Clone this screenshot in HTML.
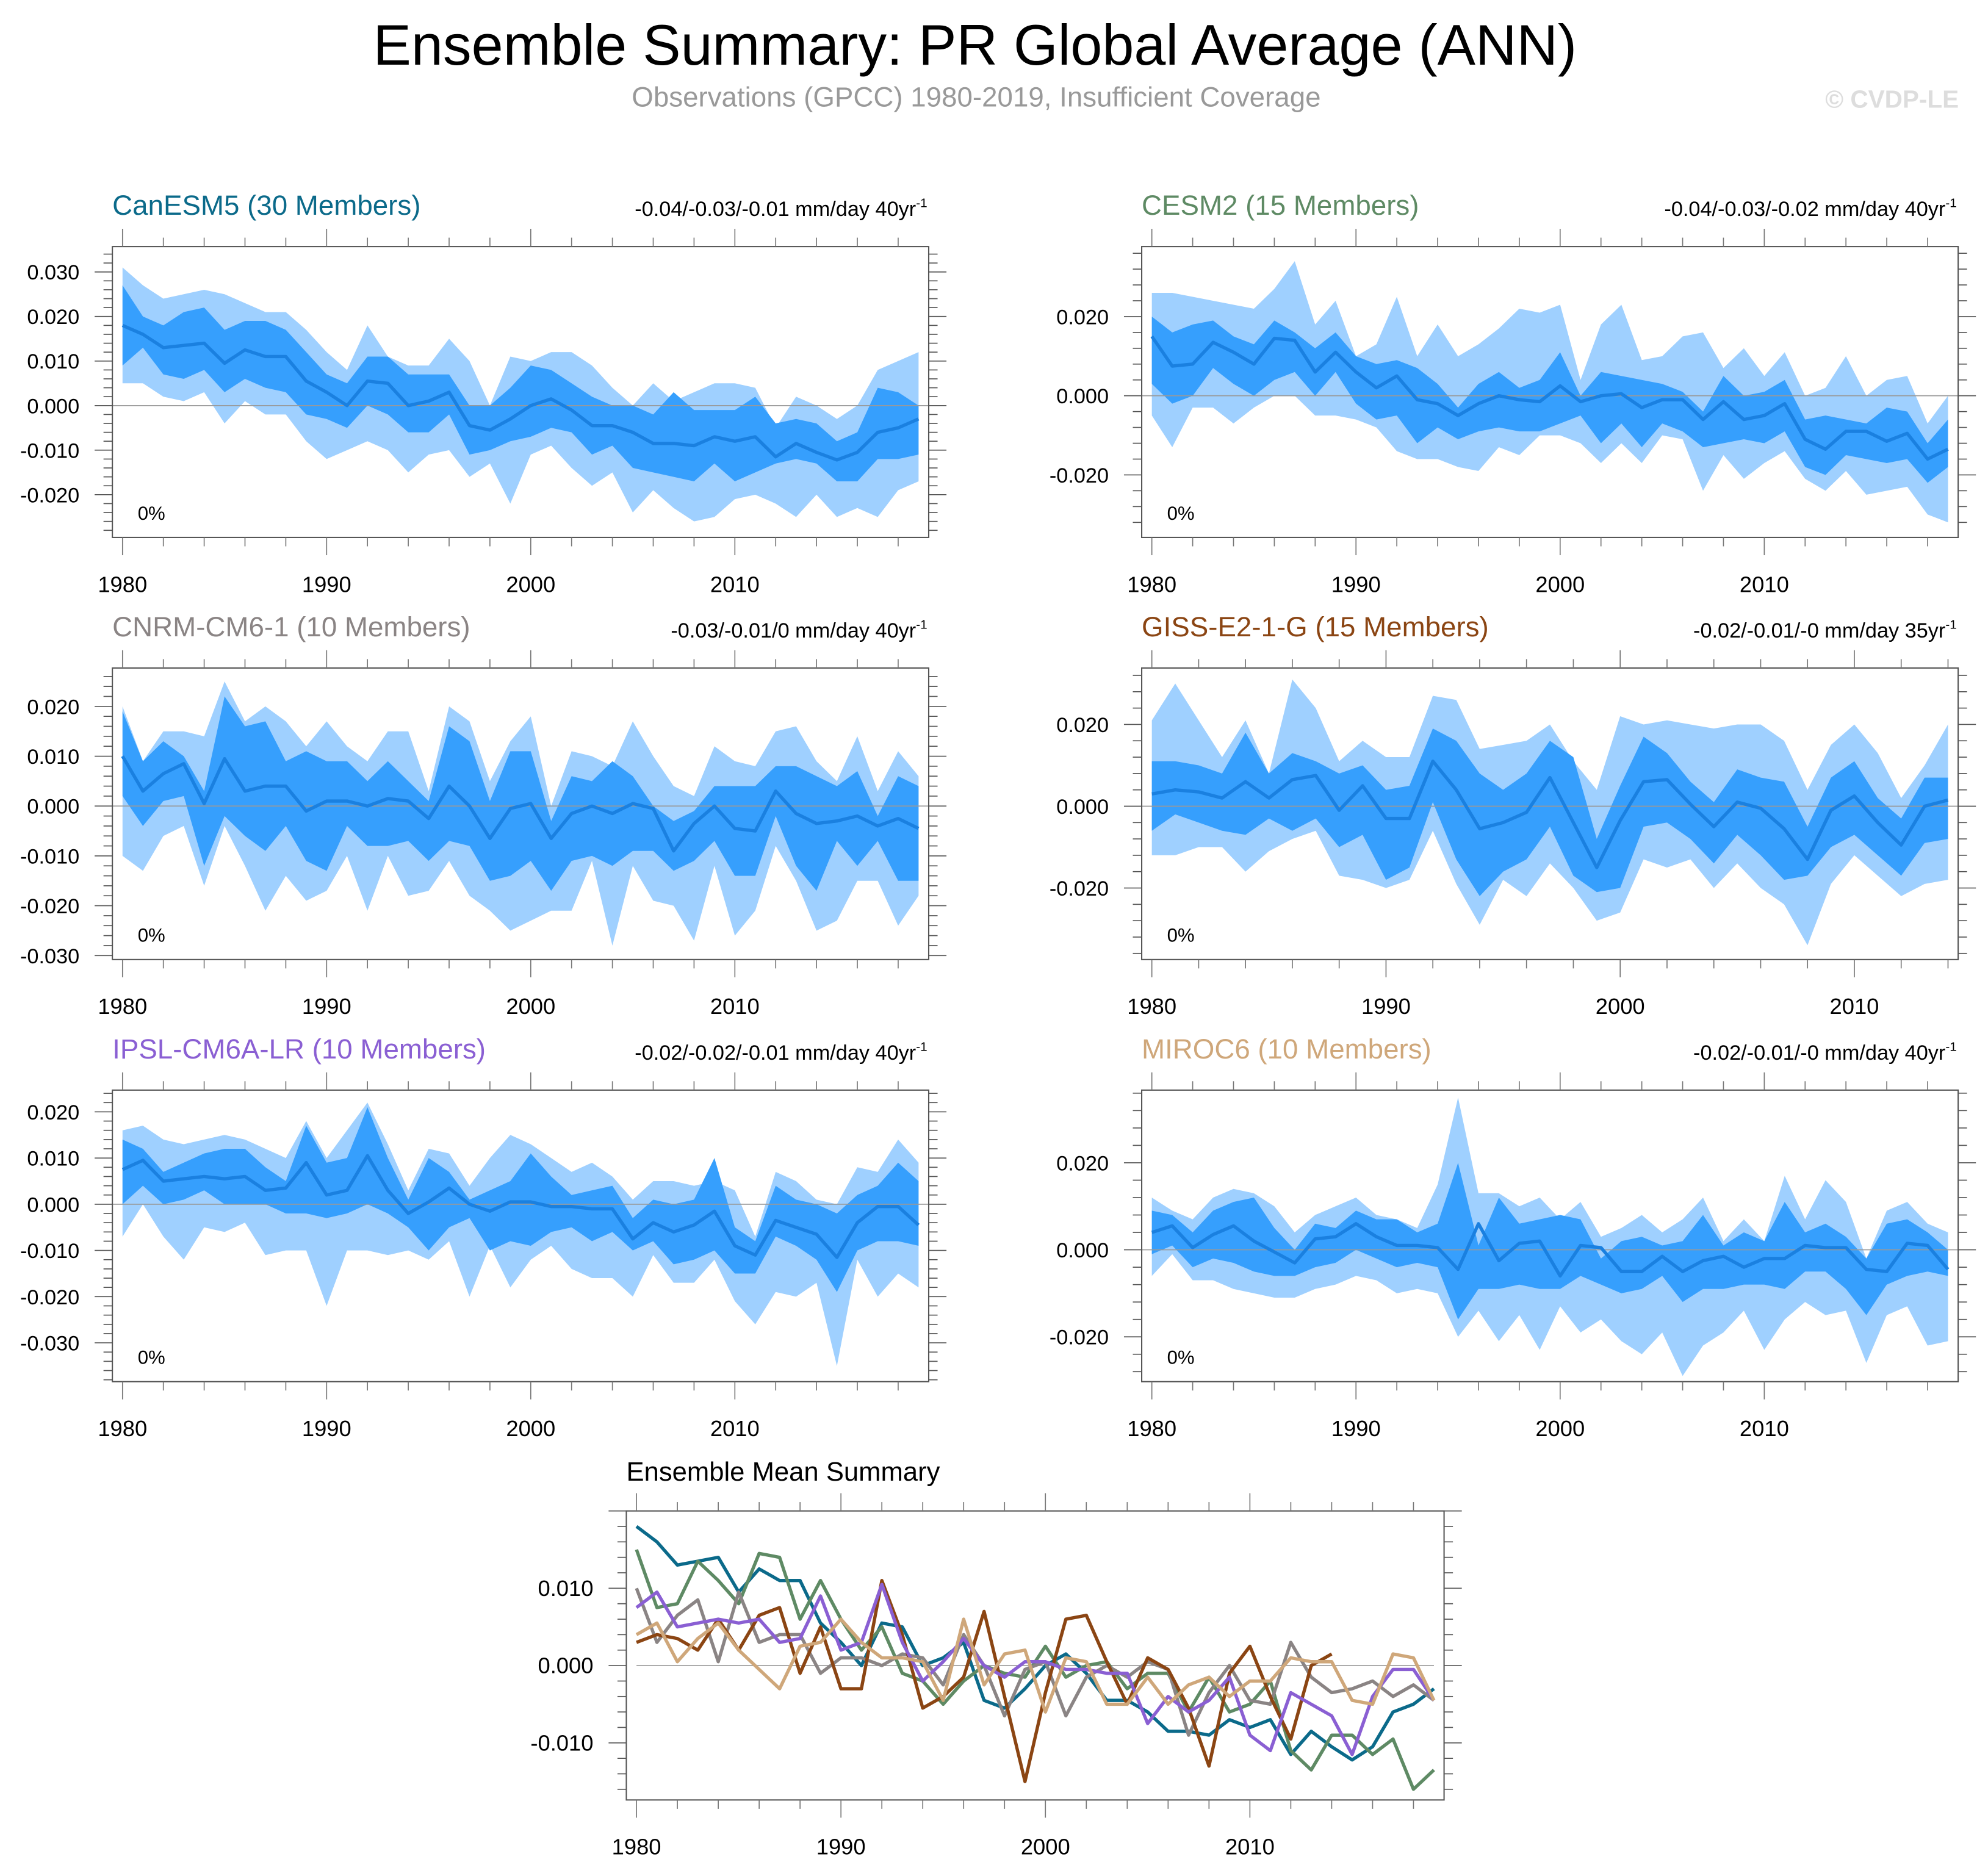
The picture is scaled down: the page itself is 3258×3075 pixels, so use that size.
<!DOCTYPE html>
<html><head><meta charset="utf-8"><title>Ensemble Summary: PR Global Average (ANN)</title>
<style>
html,body{margin:0;padding:0;background:#fff;}
svg{display:block;font-family:"Liberation Sans",Arial,sans-serif;}
</style></head>
<body>
<svg id="fig" width="3258" height="3075" viewBox="0 0 1568 1480" xmlns="http://www.w3.org/2000/svg">
<rect x="0" y="0" width="1568" height="1480" fill="#fff"/>
<text x="769" y="51" text-anchor="middle" font-size="45" fill="#000">Ensemble Summary: PR Global Average (ANN)</text>
<text x="770" y="84" text-anchor="middle" font-size="22" fill="#999">Observations (GPCC) 1980-2019, Insufficient Coverage</text>
<text x="1545" y="85" text-anchor="end" font-size="19.5" font-weight="bold" fill="#ddd">© CVDP-LE</text>
<g id="plots"></g>
</svg>
<script>
// ---------- data ----------
const years40 = [1980,1981,1982,1983,1984,1985,1986,1987,1988,1989,1990,1991,1992,1993,1994,1995,1996,1997,1998,1999,2000,2001,2002,2003,2004,2005,2006,2007,2008,2009,2010,2011,2012,2013,2014,2015,2016,2017,2018,2019];
const years35 = years40.slice(0,35);
const xTickLabels = [1980,1990,2000,2010];

const canMean = [0.018,0.016,0.013,0.0135,0.014,0.0095,0.0125,0.011,0.011,0.0055,0.003,0.0,0.0055,0.005,0.0,0.001,0.003,-0.0045,-0.0055,-0.003,0.0,0.0015,-0.001,-0.0045,-0.0045,-0.006,-0.0085,-0.0085,-0.009,-0.007,-0.008,-0.007,-0.0115,-0.0085,-0.0105,-0.0122,-0.0105,-0.006,-0.005,-0.003];
const canMax = [0.031,0.027,0.024,0.025,0.026,0.025,0.023,0.021,0.021,0.017,0.012,0.008,0.018,0.011,0.009,0.009,0.015,0.01,0.0,0.011,0.01,0.012,0.012,0.009,0.004,0.0,0.005,0.001,0.003,0.005,0.005,0.004,-0.005,0.002,0.0,-0.003,0.0,0.008,0.01,0.012];
const canHi = [0.027,0.02,0.018,0.021,0.022,0.017,0.019,0.019,0.017,0.012,0.007,0.005,0.011,0.011,0.007,0.007,0.007,0.0,0.0,0.004,0.009,0.008,0.005,0.002,0.0,0.0,-0.002,0.003,-0.001,-0.001,-0.001,0.002,-0.004,-0.003,-0.004,-0.008,-0.006,0.004,0.003,0.0];
const canLo = [0.009,0.013,0.007,0.006,0.008,0.003,0.006,0.004,0.003,-0.002,-0.003,-0.005,0.0,-0.002,-0.006,-0.006,-0.002,-0.011,-0.01,-0.008,-0.007,-0.005,-0.006,-0.011,-0.009,-0.014,-0.015,-0.016,-0.017,-0.013,-0.017,-0.015,-0.013,-0.012,-0.013,-0.017,-0.017,-0.012,-0.012,-0.011];
const canMin = [0.005,0.005,0.002,0.001,0.003,-0.004,0.001,-0.002,-0.002,-0.008,-0.012,-0.01,-0.008,-0.01,-0.015,-0.011,-0.01,-0.016,-0.013,-0.022,-0.011,-0.009,-0.014,-0.018,-0.015,-0.024,-0.019,-0.023,-0.026,-0.025,-0.021,-0.02,-0.022,-0.025,-0.02,-0.025,-0.023,-0.025,-0.019,-0.017];

const cesMean = [0.015,0.0075,0.008,0.0135,0.011,0.008,0.0145,0.014,0.006,0.011,0.006,0.002,0.005,-0.001,-0.002,-0.005,-0.002,0.0,-0.001,-0.0015,0.0025,-0.0015,0.0,0.0005,-0.003,-0.001,-0.001,-0.006,-0.0015,-0.006,-0.005,-0.002,-0.011,-0.0135,-0.009,-0.009,-0.0115,-0.0095,-0.016,-0.0135];
const cesMax = [0.026,0.026,0.025,0.024,0.023,0.022,0.027,0.034,0.018,0.024,0.01,0.013,0.025,0.01,0.018,0.01,0.013,0.017,0.022,0.021,0.023,0.004,0.018,0.023,0.009,0.01,0.015,0.016,0.007,0.012,0.005,0.011,0.0,0.002,0.01,0.0,0.004,0.005,-0.007,0.0];
const cesHi = [0.02,0.016,0.018,0.019,0.015,0.013,0.019,0.016,0.012,0.016,0.01,0.008,0.009,0.007,0.003,-0.003,0.003,0.006,0.002,0.004,0.011,0.0,0.006,0.005,0.004,0.003,0.001,-0.004,0.005,0.0,0.001,0.004,-0.006,-0.005,-0.006,-0.007,-0.003,-0.004,-0.012,-0.006];
const cesLo = [0.003,-0.002,0.0,0.007,0.003,0.0,0.004,0.006,0.0,0.006,-0.002,-0.006,-0.005,-0.012,-0.008,-0.011,-0.009,-0.008,-0.009,-0.009,-0.007,-0.005,-0.012,-0.007,-0.013,-0.007,-0.009,-0.013,-0.012,-0.011,-0.012,-0.009,-0.018,-0.02,-0.015,-0.016,-0.017,-0.016,-0.022,-0.018];
const cesMin = [-0.005,-0.013,-0.003,-0.003,-0.007,-0.003,0.0,0.0,-0.005,-0.005,-0.006,-0.008,-0.014,-0.016,-0.016,-0.018,-0.019,-0.013,-0.015,-0.01,-0.01,-0.012,-0.017,-0.012,-0.017,-0.01,-0.011,-0.024,-0.015,-0.021,-0.017,-0.014,-0.021,-0.024,-0.019,-0.025,-0.024,-0.023,-0.03,-0.032];

const cnrmMean = [0.01,0.003,0.0065,0.0085,0.0005,0.0095,0.003,0.004,0.004,-0.001,0.001,0.001,0.0,0.0015,0.001,-0.0025,0.004,0.0,-0.0065,-0.0005,0.0005,-0.0065,-0.0015,0.0,-0.0015,0.0005,-0.0005,-0.009,-0.0035,0.0,-0.0045,-0.005,0.003,-0.0015,-0.0035,-0.003,-0.002,-0.004,-0.0025,-0.0045];
const cnrmMax = [0.02,0.009,0.015,0.015,0.014,0.025,0.017,0.02,0.017,0.012,0.017,0.012,0.009,0.015,0.015,0.003,0.02,0.017,0.005,0.013,0.018,0.0,0.011,0.01,0.008,0.017,0.01,0.004,0.002,0.012,0.009,0.008,0.015,0.016,0.009,0.005,0.014,0.003,0.011,0.006];
const cnrmHi = [0.019,0.009,0.013,0.01,0.003,0.022,0.016,0.017,0.009,0.011,0.009,0.009,0.005,0.009,0.005,0.001,0.016,0.013,0.001,0.011,0.011,-0.003,0.006,0.005,0.009,0.006,0.0,-0.003,-0.001,0.004,0.004,0.004,0.008,0.008,0.006,0.004,0.007,-0.002,0.006,0.004];
const cnrmLo = [0.002,-0.004,0.001,0.002,-0.012,-0.002,-0.006,-0.009,-0.004,-0.011,-0.013,-0.004,-0.008,-0.008,-0.007,-0.011,-0.007,-0.008,-0.015,-0.014,-0.011,-0.017,-0.011,-0.01,-0.012,-0.009,-0.009,-0.013,-0.011,-0.007,-0.014,-0.014,-0.002,-0.012,-0.017,-0.007,-0.012,-0.007,-0.015,-0.015];
const cnrmMin = [-0.01,-0.013,-0.006,-0.004,-0.016,-0.004,-0.012,-0.021,-0.014,-0.019,-0.017,-0.01,-0.021,-0.01,-0.018,-0.017,-0.011,-0.018,-0.021,-0.025,-0.023,-0.021,-0.021,-0.011,-0.028,-0.012,-0.019,-0.02,-0.027,-0.012,-0.026,-0.021,-0.008,-0.015,-0.025,-0.023,-0.015,-0.015,-0.024,-0.018];

const gissMean = [0.003,0.004,0.0035,0.002,0.006,0.002,0.0065,0.0075,-0.001,0.005,-0.003,-0.003,0.011,0.004,-0.0055,-0.004,-0.0015,0.007,-0.004,-0.015,-0.0035,0.006,0.0065,0.0005,-0.005,0.001,-0.0005,-0.0055,-0.013,-0.001,0.0025,-0.004,-0.0095,0.0,0.0015];
const gissMax = [0.021,0.03,0.021,0.012,0.021,0.008,0.031,0.024,0.011,0.016,0.012,0.012,0.027,0.026,0.014,0.015,0.016,0.02,0.011,0.004,0.022,0.02,0.021,0.02,0.019,0.02,0.02,0.016,0.004,0.015,0.02,0.013,0.002,0.01,0.02];
const gissHi = [0.011,0.011,0.01,0.008,0.018,0.008,0.013,0.011,0.008,0.01,0.004,0.005,0.019,0.016,0.008,0.004,0.008,0.016,0.012,-0.008,0.005,0.017,0.013,0.006,0.001,0.009,0.007,0.006,-0.005,0.007,0.011,0.002,-0.003,0.007,0.007];
const gissLo = [-0.006,-0.002,-0.004,-0.006,-0.007,-0.003,-0.006,-0.003,-0.01,-0.007,-0.018,-0.015,0.001,-0.013,-0.022,-0.016,-0.013,-0.005,-0.017,-0.021,-0.02,-0.005,-0.004,-0.008,-0.014,-0.007,-0.012,-0.018,-0.017,-0.01,-0.007,-0.012,-0.017,-0.009,-0.008];
const gissMin = [-0.012,-0.012,-0.01,-0.01,-0.016,-0.011,-0.008,-0.006,-0.017,-0.018,-0.02,-0.018,-0.006,-0.019,-0.029,-0.018,-0.022,-0.014,-0.02,-0.028,-0.026,-0.013,-0.015,-0.013,-0.02,-0.014,-0.02,-0.024,-0.034,-0.019,-0.012,-0.017,-0.022,-0.019,-0.018];

const ipslMean = [0.0075,0.0095,0.005,0.0055,0.006,0.0055,0.006,0.003,0.0035,0.009,0.002,0.003,0.0105,0.003,-0.002,0.0005,0.0035,0.0,-0.0015,0.0005,0.0005,-0.0005,-0.0005,-0.001,-0.001,-0.0075,-0.004,-0.006,-0.0045,-0.0015,-0.009,-0.011,-0.0035,-0.005,-0.0065,-0.0115,-0.004,-0.0005,-0.0005,-0.0045];
const ipslMax = [0.016,0.017,0.014,0.013,0.014,0.015,0.014,0.012,0.01,0.018,0.01,0.016,0.022,0.013,0.003,0.012,0.011,0.004,0.01,0.015,0.013,0.01,0.007,0.009,0.006,0.001,0.005,0.005,0.004,0.005,0.003,-0.007,0.007,0.005,0.001,0.0,0.008,0.007,0.014,0.009];
const ipslHi = [0.014,0.012,0.007,0.009,0.011,0.012,0.012,0.008,0.005,0.017,0.009,0.01,0.021,0.01,0.001,0.01,0.007,0.001,0.003,0.005,0.011,0.006,0.002,0.003,0.004,-0.003,0.001,0.0,0.001,0.01,-0.005,-0.008,0.004,0.001,0.0,-0.002,0.002,0.004,0.009,0.005];
const ipslLo = [0.0,0.004,0.0,0.001,0.003,0.0,0.0,0.0,-0.002,-0.002,-0.003,-0.002,0.0,-0.002,-0.005,-0.01,-0.005,-0.003,-0.01,-0.008,-0.009,-0.006,-0.005,-0.008,-0.006,-0.01,-0.008,-0.013,-0.012,-0.01,-0.015,-0.015,-0.007,-0.009,-0.012,-0.019,-0.01,-0.008,-0.008,-0.009];
const ipslMin = [-0.007,0.0,-0.007,-0.012,-0.005,-0.006,-0.004,-0.011,-0.01,-0.01,-0.022,-0.01,-0.01,-0.011,-0.01,-0.012,-0.008,-0.02,-0.009,-0.018,-0.012,-0.009,-0.014,-0.016,-0.016,-0.02,-0.011,-0.017,-0.017,-0.012,-0.021,-0.026,-0.019,-0.02,-0.017,-0.035,-0.012,-0.02,-0.015,-0.018];

const mirMean = [0.004,0.0055,0.0005,0.0035,0.0055,0.002,-0.0005,-0.003,0.0025,0.003,0.006,0.003,0.001,0.001,0.0005,-0.0045,0.006,-0.0025,0.0015,0.002,-0.006,0.001,0.0005,-0.005,-0.005,-0.0015,-0.005,-0.0025,-0.0015,-0.004,-0.002,-0.002,0.001,0.0005,0.0005,-0.0045,-0.005,0.0015,0.001,-0.0045];
const mirMax = [0.012,0.009,0.007,0.012,0.014,0.013,0.01,0.004,0.008,0.01,0.012,0.008,0.007,0.005,0.015,0.035,0.013,0.013,0.01,0.012,0.007,0.011,0.003,0.005,0.008,0.004,0.007,0.012,0.002,0.007,0.002,0.017,0.007,0.016,0.011,-0.002,0.009,0.011,0.006,0.004];
const mirHi = [0.009,0.008,0.004,0.009,0.011,0.012,0.005,0.0,0.006,0.005,0.009,0.007,0.007,0.004,0.006,0.02,0.001,0.012,0.006,0.007,0.008,0.007,-0.002,0.002,0.003,0.001,0.002,0.008,0.001,0.004,0.002,0.011,0.004,0.006,0.003,-0.002,0.006,0.007,0.004,0.0];
const mirLo = [-0.001,0.001,-0.004,-0.002,-0.003,-0.005,-0.006,-0.006,-0.004,-0.003,0.0,-0.002,-0.004,-0.003,-0.004,-0.016,-0.009,-0.009,-0.008,-0.009,-0.009,-0.006,-0.008,-0.01,-0.009,-0.006,-0.012,-0.009,-0.009,-0.008,-0.008,-0.009,-0.005,-0.005,-0.009,-0.015,-0.008,-0.006,-0.005,-0.006];
const mirMin = [-0.006,-0.001,-0.007,-0.007,-0.009,-0.01,-0.011,-0.011,-0.009,-0.008,-0.006,-0.007,-0.01,-0.009,-0.01,-0.02,-0.014,-0.021,-0.015,-0.023,-0.013,-0.019,-0.016,-0.021,-0.024,-0.019,-0.029,-0.022,-0.019,-0.014,-0.023,-0.016,-0.012,-0.015,-0.014,-0.026,-0.015,-0.013,-0.022,-0.021];

const modelNames = ["CanESM5 (30 Members)","CESM2 (15 Members)","CNRM-CM6-1 (10 Members)","GISS-E2-1-G (15 Members)","IPSL-CM6A-LR (10 Members)","MIROC6 (10 Members)"];
const trendLabels = ["-0.04/-0.03/-0.01 mm/day 40yr","-0.04/-0.03/-0.02 mm/day 40yr","-0.03/-0.01/0 mm/day 40yr","-0.02/-0.01/-0 mm/day 35yr","-0.02/-0.02/-0.01 mm/day 40yr","-0.02/-0.01/-0 mm/day 40yr"];
const yLabelsA = [-0.02,-0.01,0,0.01,0.02,0.03];
const yLabelsB = [-0.02,0,0.02];
const yLabelsC = [-0.03,-0.02,-0.01,0,0.01,0.02];
const yLabelsD = [-0.01,0,0.01];

// ---------- layout ----------
const NS = "http://www.w3.org/2000/svg";
const root = document.getElementById("plots");
function el(tag, attrs, parent){
  const e = document.createElementNS(NS, tag);
  for (const k in attrs) e.setAttribute(k, attrs[k]);
  (parent||root).appendChild(e);
  return e;
}
function fmt(v){ if (Math.abs(v)<1e-9) return "0.000"; return v.toFixed(3); }

const panels = [
  {name:"canesm5", color:"#0b6a8a", x0:88.6, y0:194.5, x1:732.5, y1:424, ymin:-0.0296, ymax:0.0357, yl:yLabelsA, major:0.01, minor:0.002, years:years40, mean:canMean, mx:canMax, hi:canHi, lo:canLo, mn:canMin},
  {name:"cesm2", color:"#5e8a64", x0:900.5, y0:194.5, x1:1544.5, y1:424, ymin:-0.0358, ymax:0.0377, yl:yLabelsB, major:0.02, minor:0.004, years:years40, mean:cesMean, mx:cesMax, hi:cesHi, lo:cesLo, mn:cesMin},
  {name:"cnrm-cm6-1", color:"#8a8484", x0:88.6, y0:527, x1:732.5, y1:757, ymin:-0.0308, ymax:0.0277, yl:yLabelsC, major:0.01, minor:0.002, years:years40, mean:cnrmMean, mx:cnrmMax, hi:cnrmHi, lo:cnrmLo, mn:cnrmMin},
  {name:"giss-e2-1-g", color:"#8b4513", x0:900.5, y0:527, x1:1544.5, y1:757, ymin:-0.0375, ymax:0.0338, yl:yLabelsB, major:0.02, minor:0.004, years:years35, mean:gissMean, mx:gissMax, hi:gissHi, lo:gissLo, mn:gissMin},
  {name:"ipsl-cm6a-lr", color:"#8a5fd3", x0:88.6, y0:860, x1:732.5, y1:1090, ymin:-0.0384, ymax:0.0247, yl:yLabelsC, major:0.01, minor:0.002, years:years40, mean:ipslMean, mx:ipslMax, hi:ipslHi, lo:ipslLo, mn:ipslMin},
  {name:"miroc6", color:"#cfa77a", x0:900.5, y0:860, x1:1544.5, y1:1090, ymin:-0.0303, ymax:0.0367, yl:yLabelsB, major:0.02, minor:0.004, years:years40, mean:mirMean, mx:mirMax, hi:mirHi, lo:mirLo, mn:mirMin}
];

function makeScales(p){
  const n = p.years.length;
  const xs = i => p.x0 + 8 + i*((p.x1-p.x0-16)/(n-1));
  const xy = yr => xs(yr - p.years[0]);
  const ys = v => p.y1 - (v - p.ymin)/(p.ymax - p.ymin)*(p.y1-p.y0);
  return {xs, xy, ys};
}

function drawAxes(p, g, s, lblSize){
  const start = Math.ceil(p.ymin/p.minor - 1e-6);
  const end = Math.floor(p.ymax/p.minor + 1e-6);
  for (let k=start;k<=end;k++){
    const v = k*p.minor;
    const y = s.ys(v);
    const isMajor = Math.abs(v/p.major - Math.round(v/p.major)) < 1e-6;
    const L = isMajor ? 14 : 7;
    el("line",{x1:p.x0-L,y1:y,x2:p.x0,y2:y,stroke:"#555","stroke-width":0.8},g);
    el("line",{x1:p.x1,y1:y,x2:p.x1+L,y2:y,stroke:"#555","stroke-width":0.8},g);
  }
  p.yl.forEach(v=>{
    const t = el("text",{x:p.x0-26,y:s.ys(v)+6,"text-anchor":"end","font-size":lblSize,fill:"#000"},g);
    
    
    t.textContent = fmt(v);
  });
  const y0 = p.years[0], yN = p.years[p.years.length-1];
  for (let yr=y0; yr<=yN; yr+=2){
    const x = s.xy(yr);
    const isMajor = (yr%10===0);
    const L = isMajor ? 14 : 7;
    el("line",{x1:x,y1:p.y0-L,x2:x,y2:p.y0,stroke:"#777","stroke-width":0.8},g);
    el("line",{x1:x,y1:p.y1,x2:x,y2:p.y1+L,stroke:"#777","stroke-width":0.8},g);
  }
  xTickLabels.forEach(yr=>{
    if (yr>yN) return;
    const t = el("text",{x:s.xy(yr),y:p.y1+43,"text-anchor":"middle","font-size":17.5,fill:"#000"},g);
    
    
    t.textContent = yr;
  });
}

function band(upper, lower, s){
  let d = "";
  upper.forEach((v,i)=>{ d += (i?"L":"M") + s.xs(i).toFixed(2) + "," + s.ys(v).toFixed(2); });
  for (let i=lower.length-1;i>=0;i--) d += "L" + s.xs(i).toFixed(2) + "," + s.ys(lower[i]).toFixed(2);
  return d + "Z";
}
function linePath(arr, s){
  let d = "";
  arr.forEach((v,i)=>{ d += (i?"L":"M") + s.xs(i).toFixed(2) + "," + s.ys(v).toFixed(2); });
  return d;
}

panels.forEach((p, idx)=>{
  const g = el("g",{});
  
  
  const s = makeScales(p);
  const outer = el("path",{d:band(p.mx,p.mn,s),fill:"#9fd0ff"},g);
  
  
  const inner = el("path",{d:band(p.hi,p.lo,s),fill:"#369ffd"},g);
  
  
  el("line",{x1:p.x0,x2:p.x1,y1:s.ys(0),y2:s.ys(0),stroke:"#999","stroke-width":0.8},g);
  const ml = el("path",{d:linePath(p.mean,s),fill:"none",stroke:"#1a80e0","stroke-width":2.6,"stroke-linejoin":"round"},g);
  
  
  el("rect",{x:p.x0,y:p.y0,width:p.x1-p.x0,height:p.y1-p.y0,fill:"none",stroke:"#555","stroke-width":1},g);
  drawAxes(p,g,s,16.5);
  const title = el("text",{x:p.x0,y:p.y0-25,"font-size":22,fill:p.color},g);
  
  
  title.textContent = modelNames[idx];
  const tr = el("text",{x:p.x1-10,y:p.y0-24,"text-anchor":"end","font-size":16.5,fill:"#000"},g);
  
  
  tr.textContent = trendLabels[idx];
  const sup = el("text",{x:p.x1-10,y:p.y0-31,"font-size":10,fill:"#000"},g);
  
  
  sup.textContent = "-1";
  const pc = el("text",{x:p.x0+20,y:p.y1-14,"font-size":15,fill:"#000"},g);
  
  
  pc.textContent = "0%";
});

// ---------- ensemble mean summary ----------
const bp = {name:"summary", x0:494, y0:1192, x1:1139, y1:1420, ymin:-0.01738, ymax:0.0200, yl:yLabelsD, major:0.01, minor:0.002, years:years40};
const bg = el("g",{});


const bs = makeScales(bp);
el("line",{x1:bs.xs(0),x2:bs.xs(39),y1:bs.ys(0),y2:bs.ys(0),stroke:"#999","stroke-width":0.8},bg);
panels.forEach(p=>{
  const ln = el("path",{d:linePath(p.mean,bs),fill:"none",stroke:p.color,"stroke-width":2.6,"stroke-linejoin":"round"},bg);
  
  
});
el("rect",{x:bp.x0,y:bp.y0,width:bp.x1-bp.x0,height:bp.y1-bp.y0,fill:"none",stroke:"#555","stroke-width":1},bg);
drawAxes(bp,bg,bs,17.5);
const bt = el("text",{x:494,y:1168,"font-size":21,fill:"#000"},bg);


bt.textContent = "Ensemble Mean Summary";
</script>
</body></html>
